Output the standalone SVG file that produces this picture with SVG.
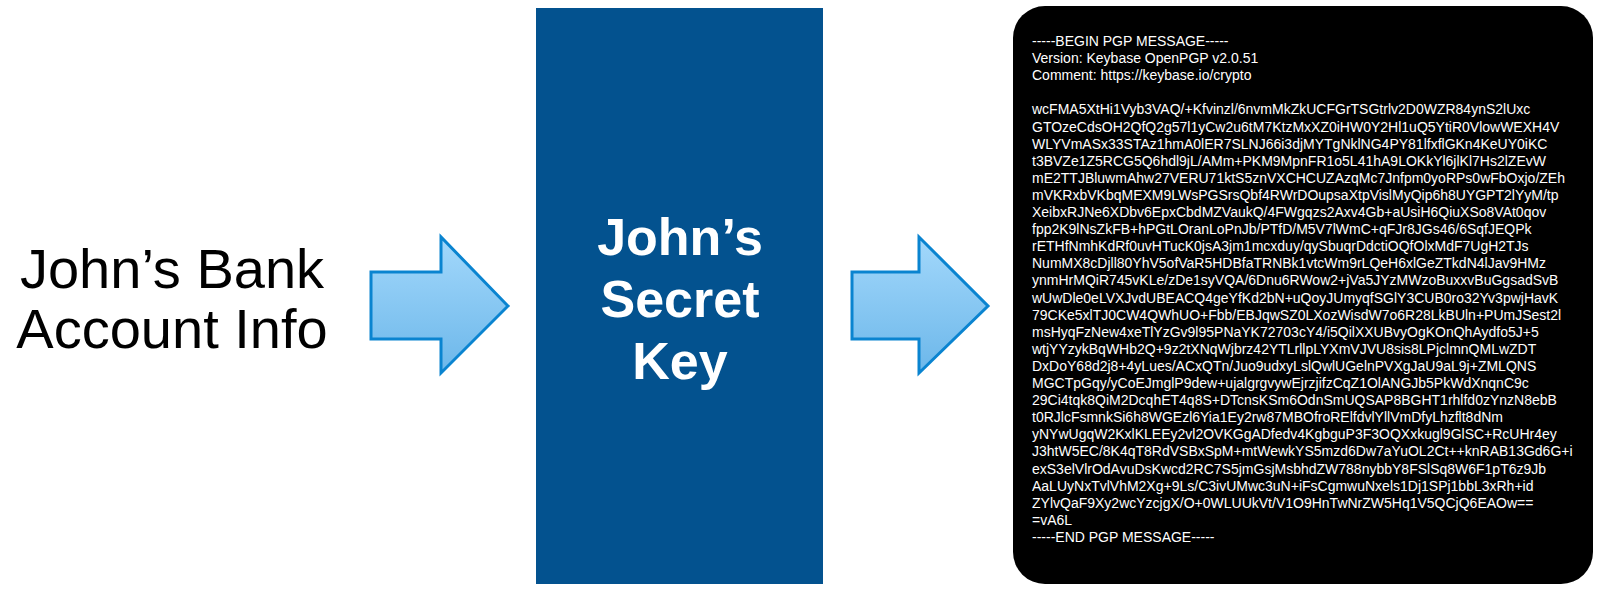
<svg xmlns="http://www.w3.org/2000/svg" width="1600" height="592" viewBox="0 0 1600 592">
<defs>
<linearGradient id="arrowFill" x1="0" y1="0" x2="0" y2="1">
<stop offset="0" stop-color="#A3D8FB"/>
<stop offset="1" stop-color="#6CB7EA"/>
</linearGradient>
<style>
.big{font-family:"Liberation Sans",Arial,Helvetica,sans-serif;font-size:56px;fill:#000;text-anchor:middle}
.key{font-family:"Liberation Sans",Arial,Helvetica,sans-serif;font-size:52px;font-weight:bold;fill:#fff;text-anchor:middle}
.pgp{font-family:"Liberation Sans",Arial,Helvetica,sans-serif;font-size:14px;fill:#fff}
.arrow{fill:url(#arrowFill);stroke:#0A84D0;stroke-width:3;stroke-linejoin:miter}
</style>
</defs>
<rect width="1600" height="592" fill="#fff"/>
<g id="bank-info">
<text class="big" x="172" y="288">John’s Bank</text>
<text class="big" x="172" y="348">Account Info</text>
</g>
<g id="connectors">
<path class="arrow" d="M371,272 H441 V237 L508,306 L441,373 V339 H371 Z"/>
<path class="arrow" d="M852,272 H919 V237 L988,306 L919,373 V339 H852 Z"/>
</g>
<g id="secret-key">
<rect x="536" y="8" width="287" height="576" fill="#03528F"/>
<text class="key" x="680" y="255">John’s</text>
<text class="key" x="680" y="317">Secret</text>
<text class="key" x="680" y="379">Key</text>
</g>
<g id="pgp-message">
<rect x="1013" y="6" width="580" height="578" rx="32" ry="32" fill="#000"/>
<text class="pgp" x="1032">
<tspan x="1032" y="46">-----BEGIN PGP MESSAGE-----</tspan>
<tspan x="1032" y="63.1">Version: Keybase OpenPGP v2.0.51</tspan>
<tspan x="1032" y="80.2">Comment: https://keybase.io/crypto</tspan>
<tspan x="1032" y="114.4">wcFMA5XtHi1Vyb3VAQ/+Kfvinzl/6nvmMkZkUCFGrTSGtrlv2D0WZR84ynS2lUxc</tspan>
<tspan x="1032" y="131.5">GTOzeCdsOH2QfQ2g57l1yCw2u6tM7KtzMxXZ0iHW0Y2Hl1uQ5YtiR0VlowWEXH4V</tspan>
<tspan x="1032" y="148.6">WLYVmASx33STAz1hmA0lER7SLNJ66i3djMYTgNklNG4PY81lfxflGKn4KeUY0iKC</tspan>
<tspan x="1032" y="165.7">t3BVZe1Z5RCG5Q6hdl9jL/AMm+PKM9MpnFR1o5L41hA9LOKkYl6jlKl7Hs2lZEvW</tspan>
<tspan x="1032" y="182.8">mE2TTJBluwmAhw27VERU71ktS5znVXCHCUZAzqMc7Jnfpm0yoRPs0wFbOxjo/ZEh</tspan>
<tspan x="1032" y="199.9">mVKRxbVKbqMEXM9LWsPGSrsQbf4RWrDOupsaXtpVislMyQip6h8UYGPT2lYyM/tp</tspan>
<tspan x="1032" y="217">XeibxRJNe6XDbv6EpxCbdMZVaukQ/4FWgqzs2Axv4Gb+aUsiH6QiuXSo8VAt0qov</tspan>
<tspan x="1032" y="234.1">fpp2K9lNsZkFB+hPGtLOranLoPnJb/PTfD/M5V7lWmC+qFJr8JGs46/6SqfJEQPk</tspan>
<tspan x="1032" y="251.2">rETHfNmhKdRf0uvHTucK0jsA3jm1mcxduy/qySbuqrDdctiOQfOlxMdF7UgH2TJs</tspan>
<tspan x="1032" y="268.3">NumMX8cDjll80YhV5ofVaR5HDBfaTRNBk1vtcWm9rLQeH6xlGeZTkdN4lJav9HMz</tspan>
<tspan x="1032" y="285.4">ynmHrMQiR745vKLe/zDe1syVQA/6Dnu6RWow2+jVa5JYzMWzoBuxxvBuGgsadSvB</tspan>
<tspan x="1032" y="302.5">wUwDle0eLVXJvdUBEACQ4geYfKd2bN+uQoyJUmyqfSGlY3CUB0ro32Yv3pwjHavK</tspan>
<tspan x="1032" y="319.6">79CKe5xlTJ0CW4QWhUO+Fbb/EBJqwSZ0LXozWisdW7o6R28LkBUln+PUmJSest2l</tspan>
<tspan x="1032" y="336.7">msHyqFzNew4xeTlYzGv9l95PNaYK72703cY4/i5QilXXUBvyOgKOnQhAydfo5J+5</tspan>
<tspan x="1032" y="353.8">wtjYYzykBqWHb2Q+9z2tXNqWjbrz42YTLrllpLYXmVJVU8sis8LPjclmnQMLwZDT</tspan>
<tspan x="1032" y="370.9">DxDoY68d2j8+4yLues/ACxQTn/Juo9udxyLslQwlUGelnPVXgJaU9aL9j+ZMLQNS</tspan>
<tspan x="1032" y="388">MGCTpGqy/yCoEJmglP9dew+ujalgrgvywEjrzjifzCqZ1OlANGJb5PkWdXnqnC9c</tspan>
<tspan x="1032" y="405.1">29Ci4tqk8QiM2DcqhET4q8S+DTcnsKSm6OdnSmUQSAP8BGHT1rhlfd0zYnzN8ebB</tspan>
<tspan x="1032" y="422.2">t0RJlcFsmnkSi6h8WGEzl6Yia1Ey2rw87MBOfroRElfdvlYllVmDfyLhzflt8dNm</tspan>
<tspan x="1032" y="439.3">yNYwUgqW2KxlKLEEy2vl2OVKGgADfedv4KgbguP3F3OQXxkugl9GlSC+RcUHr4ey</tspan>
<tspan x="1032" y="456.4">J3htW5EC/8K4qT8RdVSBxSpM+mtWewkYS5mzd6Dw7aYuOL2Ct++knRAB13Gd6G+i</tspan>
<tspan x="1032" y="473.5">exS3elVlrOdAvuDsKwcd2RC7S5jmGsjMsbhdZW788nybbY8FSlSq8W6F1pT6z9Jb</tspan>
<tspan x="1032" y="490.6">AaLUyNxTvlVhM2Xg+9Ls/C3ivUMwc3uN+iFsCgmwuNxels1Dj1SPj1bbL3xRh+id</tspan>
<tspan x="1032" y="507.7">ZYlvQaF9Xy2wcYzcjgX/O+0WLUUkVt/V1O9HnTwNrZW5Hq1V5QCjQ6EAOw==</tspan>
<tspan x="1032" y="524.8">=vA6L</tspan>
<tspan x="1032" y="541.9">-----END PGP MESSAGE-----</tspan>
</text>
</g>
</svg>
